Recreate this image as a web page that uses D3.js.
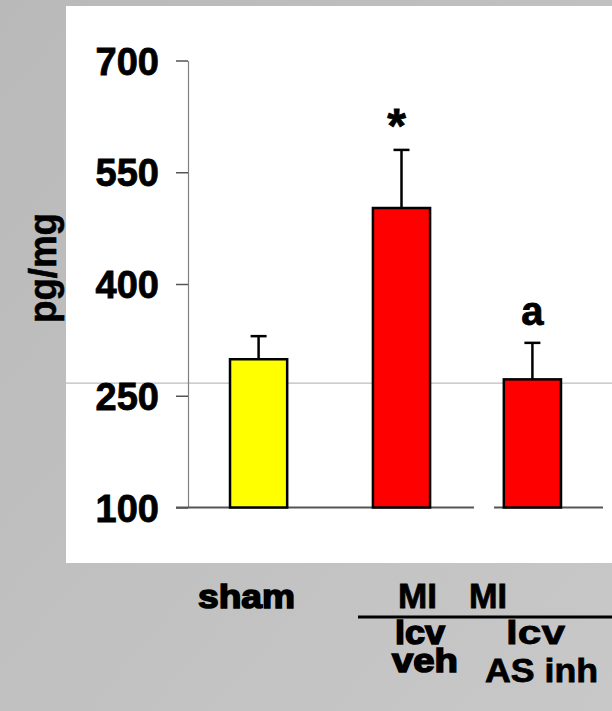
<!DOCTYPE html>
<html>
<head>
<meta charset="utf-8">
<script src="https://cdn.jsdelivr.net/npm/d3@7"></script>
<style>
  html, body { margin: 0; padding: 0; }
  body { width: 612px; height: 711px; overflow: hidden; }
  svg { display: block; font-family: "Liberation Sans", Arial, sans-serif; }
</style>
</head>
<body>
<svg id="chart" width="612" height="711"></svg>
<script>
// Groups and measured values (pg/mg)
const categories = ["sham", "MI icv veh", "MI icv AS inh"];
const means = [299, 502, 272];
const upperError = [31, 78, 49];
const marks = ["", "*", "a"];
const fills = ["#ffff00", "#ff0000", "#ff0000"];
const segment = [0, 0, 1];
const tickValues = [100, 250, 400, 550, 700];
const referenceLevel = 267;

const svg = d3.select("#chart");

// Background with slight shading, and white plot card
const defs = svg.append("defs");
const grad = defs.append("linearGradient").attr("id", "bg")
  .attr("x1", 0).attr("y1", 0).attr("x2", 1).attr("y2", 1);
grad.append("stop").attr("offset", 0).attr("stop-color", "#b9b9b9");
grad.append("stop").attr("offset", 1).attr("stop-color", "#c8c8c8");
svg.append("rect").attr("width", 612).attr("height", 711).attr("fill", "url(#bg)");
svg.append("rect").attr("x", 66).attr("y", 6).attr("width", 546).attr("height", 557).attr("fill", "#ffffff");

const axisX = 188;
const y = d3.scaleLinear().domain([100, 700]).range([507.5, 60.5]);

// Bars positioned on a band scale; the last group sits on a separate baseline segment
const x = d3.scaleBand().domain(categories).range([axisX, 615]).paddingInner(0.6).paddingOuter(0.294);
const segmentShift = [0, -12];
const cx = (d, i) => x(d) + x.bandwidth() / 2 + segmentShift[segment[i]];

// Reference level line across the card
svg.append("line")
  .attr("x1", 66).attr("x2", 612)
  .attr("y1", y(referenceLevel)).attr("y2", y(referenceLevel))
  .attr("stroke", "#bdbdbd").attr("stroke-width", 1.2);

// Y axis
const yAxis = d3.axisLeft(y).tickValues(tickValues).tickSize(12).tickSizeOuter(0).tickPadding(17);
const gy = svg.append("g").attr("transform", `translate(${axisX},0)`).call(yAxis);
gy.select(".domain").attr("stroke", "#808080").attr("stroke-width", 1.2);
gy.selectAll(".tick line").attr("stroke", "#555").attr("stroke-width", 1.5);
gy.selectAll(".tick text")
  .attr("font-size", 38).attr("font-weight", "bold").attr("fill", "#000")
  .attr("stroke", "#000").attr("stroke-width", 0.8)
  .attr("font-family", "'Liberation Sans', Arial, sans-serif")
  .attr("dy", "0.36em");

// Baseline segments
const baseSegments = [[176, 474], [494, 603]];
svg.append("g").selectAll("line").data(baseSegments).join("line")
  .attr("x1", d => d[0]).attr("x2", d => d[1])
  .attr("y1", y(100)).attr("y2", y(100))
  .attr("stroke", "#555").attr("stroke-width", 2);

// Error bars (upper only)
const eb = svg.append("g").attr("stroke", "#000").attr("stroke-width", 2.5);
categories.forEach((c, i) => {
  const xc = cx(c, i);
  eb.append("line").attr("x1", xc).attr("x2", xc)
    .attr("y1", y(means[i])).attr("y2", y(means[i] + upperError[i]));
  eb.append("line").attr("x1", xc - 8).attr("x2", xc + 8)
    .attr("y1", y(means[i] + upperError[i])).attr("y2", y(means[i] + upperError[i]));
});

// Bars
svg.append("g").selectAll("rect").data(categories).join("rect")
  .attr("x", (d, i) => cx(d, i) - x.bandwidth() / 2)
  .attr("width", x.bandwidth())
  .attr("y", (d, i) => y(means[i]))
  .attr("height", (d, i) => y(100) - y(means[i]))
  .attr("fill", (d, i) => fills[i])
  .attr("stroke", "#000").attr("stroke-width", 2.5);

// Significance marks
svg.append("g").selectAll("text").data(categories).join("text")
  .attr("x", (d, i) => cx(d, i) - (i === 1 ? 5 : 0))
  .attr("y", (d, i) => y(means[i] + upperError[i]) - (i === 1 ? 8 : 18))
  .attr("text-anchor", "middle")
  .attr("font-size", (d, i) => i === 1 ? 48 : 40)
  .attr("font-weight", "bold")
  .attr("stroke", "#000").attr("stroke-width", 0.8)
  .text((d, i) => marks[i]);

// Y axis title
svg.append("text")
  .attr("transform", "translate(56,268) rotate(-90)")
  .attr("text-anchor", "middle")
  .attr("font-size", 39).attr("font-weight", "bold")
  .attr("textLength", 110).attr("lengthAdjust", "spacingAndGlyphs")
  .attr("stroke", "#000").attr("stroke-width", 0.6)
  .text("pg/mg");

// Group labels below the card
const labels = [
  { t: "sham", x: 198, y: 608, w: 97, size: 34, heavy: true },
  { t: "MI", x: 398, y: 608, w: 39, size: 35, heavy: false },
  { t: "MI", x: 469, y: 608, w: 38, size: 35, heavy: false },
  { t: "lcv", x: 395, y: 644, w: 50, size: 34, heavy: true },
  { t: "lcv", x: 506, y: 644, w: 59, size: 34, heavy: false },
  { t: "veh", x: 392, y: 672, w: 66, size: 33, heavy: true },
  { t: "AS inh", x: 485, y: 682, w: 113, size: 34, heavy: false }
];
svg.append("g").selectAll("text").data(labels).join("text")
  .attr("x", d => d.x).attr("y", d => d.y)
  .attr("font-size", d => d.size).attr("font-weight", "bold")
  .attr("textLength", d => d.w).attr("lengthAdjust", "spacingAndGlyphs")
  .attr("fill", "#000")
  .attr("stroke", "#000")
  .attr("stroke-width", d => d.heavy ? 1.6 : 0.8)
  .text(d => d.t);

// Divider under "MI  MI"
svg.append("line").attr("x1", 358).attr("x2", 612).attr("y1", 617).attr("y2", 617)
  .attr("stroke", "#000").attr("stroke-width", 3);
</script>
</body>
</html>
